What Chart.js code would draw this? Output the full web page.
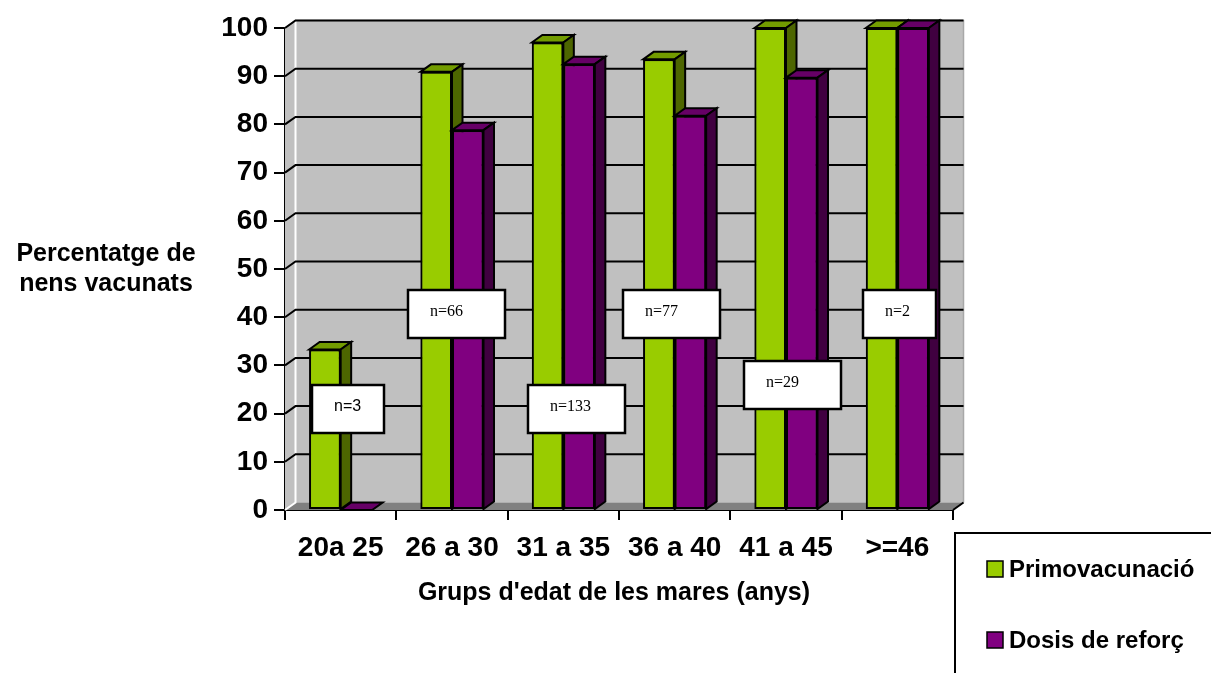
<!DOCTYPE html>
<html>
<head>
<meta charset="utf-8">
<script src="https://cdn.jsdelivr.net/npm/chart.js@4/dist/chart.umd.min.js"></script>
<style>
  html, body { margin: 0; padding: 0; background: #ffffff; }
  #wrap { width: 1211px; height: 673px; position: relative; }
</style>
</head>
<body>
<div id="wrap"><canvas id="chart" width="1211" height="673"></canvas></div>
<script>
// Age groups of the mothers and share of vaccinated children (%)
const ageGroups = ['20a 25', '26 a 30', '31 a 35', '36 a 40', '41 a 45', '>=46'];
const primovacunacio = [33.3, 90.9, 97.0, 93.5, 100, 100];
const dosisReforc = [0, 78.8, 92.5, 81.8, 89.7, 100];
const sampleSizes = [3, 66, 133, 77, 29, 2];
const seriesNames = ['Primovacunació', 'Dosis de reforç'];

const SANS = '"Liberation Sans", Arial, sans-serif';
const SERIF = '"Liberation Serif", "Times New Roman", serif';

// depth of the pseudo-3D walls and columns
const DX = 10.5, DY = -7.5;

const faceColors = [
  { front: '#99CC00', top: '#739C00', side: '#4D6600' },
  { front: '#800080', top: '#660066', side: '#400040' }
];

// placement of the "n=" boxes: offset from category centre (px), level on the value axis, width
const noteLayout = [
  { dx: 7.5, level: 21, w: 72, font: SANS },
  { dx: 4, level: 40.7, w: 97, font: SERIF },
  { dx: 13, level: 21, w: 97, font: SERIF },
  { dx: -3, level: 40.7, w: 97, font: SERIF },
  { dx: 6, level: 26, w: 97, font: SERIF },
  { dx: 2, level: 40.7, w: 73, font: SERIF }
];

function poly(ctx, pts, fill, stroke, lw) {
  ctx.beginPath();
  ctx.moveTo(pts[0][0], pts[0][1]);
  for (let i = 1; i < pts.length; i++) ctx.lineTo(pts[i][0], pts[i][1]);
  ctx.closePath();
  if (fill) { ctx.fillStyle = fill; ctx.fill(); }
  if (stroke) { ctx.strokeStyle = stroke; ctx.lineWidth = lw || 1; ctx.stroke(); }
}

const wallsPlugin = {
  id: 'walls',
  beforeDatasetsDraw(chart) {
    const { ctx, chartArea: a, scales: { y } } = chart;
    ctx.save();
    // back wall
    poly(ctx, [[a.left + DX, a.top + DY], [a.right + DX, a.top + DY], [a.right + DX, a.bottom + DY], [a.left + DX, a.bottom + DY]], '#C0C0C0');
    // side wall
    poly(ctx, [[a.left, a.top], [a.left + DX, a.top + DY], [a.left + DX, a.bottom + DY], [a.left, a.bottom]], '#C0C0C0');
    // floor
    poly(ctx, [[a.left, a.bottom], [a.left + DX, a.bottom + DY], [a.right + DX, a.bottom + DY], [a.right, a.bottom]], '#808080');
    // wall edges
    ctx.strokeStyle = '#A8A8A8';
    ctx.lineWidth = 1.5;
    ctx.beginPath();
    ctx.moveTo(a.left, a.top); ctx.lineTo(a.left + DX, a.top + DY); ctx.lineTo(a.right + DX, a.top + DY); ctx.lineTo(a.right + DX, a.bottom + DY);
    ctx.stroke();
    ctx.strokeStyle = '#FFFFFF';
    ctx.lineWidth = 2;
    ctx.beginPath();
    ctx.moveTo(a.left + DX, a.top + DY); ctx.lineTo(a.left + DX, a.bottom + DY); ctx.lineTo(a.left, a.bottom);
    ctx.stroke();
    // gridlines on the side and back walls
    ctx.strokeStyle = '#000000';
    ctx.lineWidth = 2;
    y.ticks.forEach(t => {
      if (t.value === 0) return;
      const py = y.getPixelForValue(t.value);
      ctx.beginPath();
      ctx.moveTo(a.left, py);
      ctx.lineTo(a.left + DX, py + DY);
      ctx.lineTo(a.right + DX, py + DY);
      ctx.stroke();
    });
    // floor edge at the right end
    ctx.beginPath();
    ctx.moveTo(a.right, a.bottom);
    ctx.lineTo(a.right + DX, a.bottom + DY);
    ctx.stroke();
    ctx.restore();
  },
  afterDatasetsDraw(chart) {
    const { ctx, chartArea, scales: { x, y } } = chart;
    ctx.save();
    // columns, front to back left to right: front face (library element), then top and side faces
    chart.data.datasets.forEach((ds, di) => {
      const meta = chart.getDatasetMeta(di);
      const c = faceColors[di];
      meta.data.forEach(bar => {
        bar.draw(ctx, chartArea);
        const p = bar.getProps(['x', 'y', 'base', 'width'], true);
        const l = p.x - p.width / 2, r = p.x + p.width / 2;
        const t = Math.min(p.y, p.base), b = Math.max(p.y, p.base);
        poly(ctx, [[l, t], [l + DX, t + DY], [r + DX, t + DY], [r, t]], c.top, '#000000', 2);
        if (b - t > 0.5) {
          poly(ctx, [[r, t], [r + DX, t + DY], [r + DX, b + DY], [r, b]], c.side, '#000000', 2);
        }
      });
    });
    // "n=" boxes
    sampleSizes.forEach((n, i) => {
      const L = noteLayout[i];
      const cx = x.getPixelForValue(i) + L.dx;
      const cy = y.getPixelForValue(L.level);
      const h = 48;
      const bx = Math.round(cx - L.w / 2), by = Math.round(cy - h / 2);
      ctx.fillStyle = '#FFFFFF';
      ctx.fillRect(bx, by, L.w, h);
      ctx.strokeStyle = '#000000';
      ctx.lineWidth = 2.5;
      ctx.strokeRect(bx, by, L.w, h);
      ctx.fillStyle = '#000000';
      ctx.font = '16px ' + L.font;
      ctx.textAlign = 'left';
      ctx.textBaseline = 'middle';
      ctx.fillText('n=' + n, bx + 22, cy - 2);
    });
    ctx.restore();
  },
  afterDraw(chart) {
    const { ctx } = chart;
    ctx.save();
    ctx.fillStyle = '#000000';
    // value axis title
    ctx.font = 'bold 25px ' + SANS;
    ctx.textAlign = 'center';
    ctx.textBaseline = 'alphabetic';
    ctx.fillText('Percentatge de', 106, 261);
    ctx.fillText('nens vacunats', 106, 291);
    // category axis title
    ctx.fillText("Grups d'edat de les mares (anys)", 614, 600);
    // legend
    ctx.strokeStyle = '#000000';
    ctx.lineWidth = 2;
    ctx.strokeRect(955, 533, 270, 160);
    ctx.font = 'bold 24px ' + SANS;
    ctx.textAlign = 'left';
    ctx.textBaseline = 'middle';
    const rows = [569, 640];
    chart.data.datasets.forEach((ds, i) => {
      const cy = rows[i];
      ctx.fillStyle = ds.backgroundColor;
      ctx.fillRect(987, cy - 8, 16, 16);
      ctx.lineWidth = 1.5;
      ctx.strokeRect(987, cy - 8, 16, 16);
      ctx.fillStyle = '#000000';
      ctx.fillText(ds.label, 1009, cy + 1);
    });
    ctx.restore();
  }
};

new Chart(document.getElementById('chart'), {
  type: 'bar',
  data: {
    labels: ageGroups,
    datasets: [
      {
        label: seriesNames[0],
        data: primovacunacio,
        backgroundColor: faceColors[0].front,
        borderColor: '#000000',
        borderWidth: 2,
        borderSkipped: false
      },
      {
        label: seriesNames[1],
        data: dosisReforc,
        backgroundColor: faceColors[1].front,
        borderColor: '#000000',
        borderWidth: 2,
        borderSkipped: false
      }
    ]
  },
  options: {
    responsive: false,
    animation: false,
    devicePixelRatio: 1,
    layout: { padding: { top: 28, right: 258, left: 0, bottom: 0 } },
    datasets: { bar: { categoryPercentage: 0.566, barPercentage: 1.0 } },
    plugins: {
      legend: { display: false },
      tooltip: { enabled: false }
    },
    scales: {
      x: {
        offset: true,
        grid: { display: true, offset: true, drawOnChartArea: false, drawTicks: true, tickLength: 10, color: '#000000', lineWidth: 2 },
        border: { display: true, color: '#000000', width: 2 },
        ticks: { color: '#000000', font: { family: SANS, size: 28, weight: 'bold' }, padding: 11, maxRotation: 0, autoSkip: false },
        afterFit(scale) { scale.height = 163; }
      },
      y: {
        min: 0,
        max: 100,
        grid: { display: true, drawOnChartArea: false, drawTicks: true, tickLength: 11, color: '#000000', lineWidth: 2 },
        border: { display: true, color: '#000000', width: 2 },
        ticks: { stepSize: 10, color: '#000000', font: { family: SANS, size: 28, weight: 'bold' }, padding: 6 },
        afterFit(scale) { scale.width = 285; }
      }
    }
  },
  plugins: [wallsPlugin]
});
</script>
</body>
</html>
